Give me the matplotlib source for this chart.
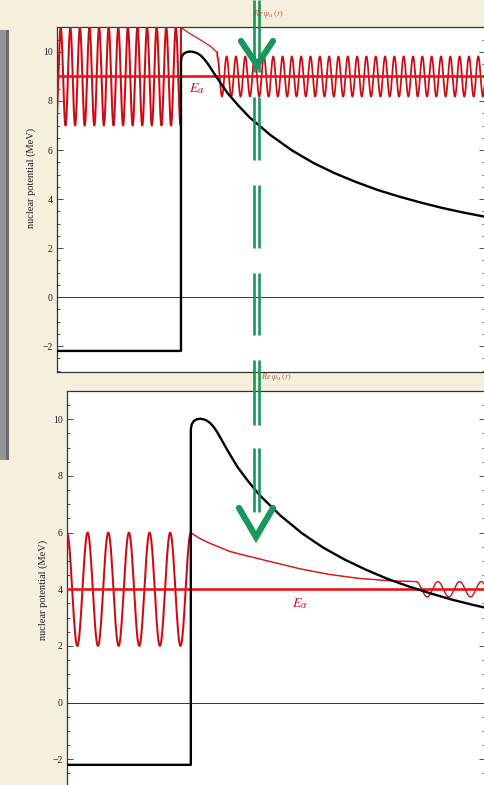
import matplotlib
matplotlib.use("Agg")
import matplotlib.pyplot as plt
import numpy as np
from matplotlib.patches import Rectangle

# ---- data (r in arbitrary length units, V in MeV) ----
barrier_r = [0.0, 2.9, 2.9, 2.92, 2.97, 3.04, 3.12, 3.2, 3.28, 3.36, 3.44, 3.52,
             3.6, 3.7, 3.8, 3.9, 4.0, 4.25, 4.5, 5.0, 5.5, 6.0, 6.5, 7.0, 7.5,
             8.0, 8.5, 9.0, 9.5, 10.0]
barrier_v = [-2.2, -2.2, 9.65, 9.82, 9.94, 10.0, 10.02, 10.0, 9.95, 9.86, 9.72,
             9.54, 9.33, 9.06, 8.8, 8.55, 8.3, 7.8, 7.34, 6.6, 5.98, 5.47, 5.05,
             4.69, 4.37, 4.1, 3.86, 3.64, 3.45, 3.28]
wall_r = 2.9

# upper panel: E_alpha = 9 MeV
E_top = 9.0
top_in_amp, top_in_period, top_in_peak = 2.0, 0.2244, 0.087
top_env_r = [2.9, 3.1, 3.35, 3.6, 3.75]
top_env_v = [11.0, 10.76, 10.5, 10.22, 9.98]
top_out_amp, top_out_period, top_out_start = 0.82, 0.218, 3.75

# lower panel: E_alpha = 4 MeV
E_bot = 4.0
bot_in_amp, bot_in_cycles = 2.0, 6
bot_env_r = [2.9, 3.1, 3.35, 3.82, 4.29, 4.75, 5.46, 6.16, 6.86, 7.56, 8.18]
bot_env_v = [6.0, 5.8, 5.62, 5.33, 5.15, 4.98, 4.72, 4.52, 4.38, 4.3, 4.27]
bot_out_amp, bot_out_period, bot_out_start = 0.27, 0.508, 8.18

yticks = [-2, 0, 2, 4, 6, 8, 10]

RED = "#e8141c"
WAVE = "#e5121b"
PAPER = "#f5efde"
GREEN = "#17975a"
SERIF = "Liberation Serif"

plt.rcParams["mathtext.fontset"] = "stix"

fig = plt.figure(figsize=(4.84, 7.85), dpi=100, facecolor=PAPER)
W, H = 484.0, 785.0


def px_axes(left, top, right, bottom):
    return fig.add_axes([left / W, 1 - bottom / H, (right - left) / W, (bottom - top) / H])


def wave_line(ax, r, v, lw=1.5):
    ax.plot(r, v, color=WAVE, lw=lw, zorder=4)
    ax.plot(r, v, color="black", lw=lw * 0.3, alpha=0.3, zorder=5)


def style(ax, xmax, ylim):
    ax.set_xlim(0, xmax)
    ax.set_ylim(*ylim)
    ax.set_facecolor("white")
    ax.set_xticks([])
    ax.set_yticks(yticks)
    ax.set_yticklabels([str(t).replace("-", "\u2212") for t in yticks],
                       fontfamily=SERIF, fontsize=7, color="#222")
    ax.set_yticks(np.arange(-3, 11.01, 0.5), minor=True)
    ax.tick_params(axis="y", which="both", direction="in", left=True, right=True,
                   width=0.6, color="#333", pad=3)
    ax.tick_params(axis="y", which="major", length=4)
    ax.tick_params(axis="y", which="minor", length=2.2)
    for s in ax.spines.values():
        s.set_color("#333")
        s.set_linewidth(0.9)
    ax.axhline(0, color="#333", lw=0.7, zorder=2)


# ---------------- upper panel ----------------
ax1 = px_axes(57, 27, 484.5, 372)
style(ax1, 10.0, (-3.06, 11.02))
ax1.axhline(E_top, color=RED, lw=1.9, zorder=6)

r_in = np.linspace(0, wall_r, 900)
v_in = E_top + top_in_amp * np.cos(2 * np.pi * (r_in - top_in_peak) / top_in_period)
r_in = np.append(r_in, [wall_r])
v_in = np.append(v_in, [top_env_v[0]])
wave_line(ax1, r_in, v_in)
ax1.plot(top_env_r, top_env_v, color=WAVE, lw=0.9, zorder=4)
r_out = np.linspace(top_out_start, 10.0, 2000)
v_out = E_top + top_out_amp * np.cos(2 * np.pi * (r_out - top_out_start) / top_out_period)
wave_line(ax1, np.r_[top_env_r[-1], r_out], np.r_[top_env_v[-1], v_out], lw=1.3)
ax1.plot(barrier_r, barrier_v, color="black", lw=1.7, zorder=7, solid_joinstyle="round")
ax1.text(3.28, 8.5, r"$\mathbf{\mathit{E}}_{\alpha}$", color="#c8102e", fontsize=10,
         ha="center", va="center", zorder=8)

# ---------------- lower panel ----------------
ax2 = px_axes(67, 391, 484.5, 787.5)
style(ax2, (484.5 - 67) / 42.7, (-3.0, 10.99))
ax2.axhline(E_bot, color=RED, lw=1.9, zorder=6)

r_in = np.linspace(0, wall_r, 600)
v_in = E_bot + bot_in_amp * np.cos(2 * np.pi * bot_in_cycles * r_in / wall_r)
wave_line(ax2, r_in, v_in)
ax2.plot(bot_env_r, bot_env_v, color="#222", lw=0.6, alpha=0.5, zorder=4)
ax2.plot(bot_env_r, bot_env_v, color=WAVE, lw=1.0, zorder=4)
r_out = np.linspace(bot_out_start, 10.0, 600)
v_out = E_bot + bot_out_amp * np.cos(2 * np.pi * (r_out - bot_out_start) / bot_out_period)
wave_line(ax2, r_out, v_out, lw=1.0)
ax2.plot(barrier_r, barrier_v, color="black", lw=1.7, zorder=7, solid_joinstyle="round")
ax2.text(5.46, 3.5, r"$\mathbf{\mathit{E}}_{\alpha}$", color="#c8102e", fontsize=10,
         ha="center", va="center", zorder=8)

# ---------------- overlay in pixel coordinates ----------------
ov = fig.add_axes([0, 0, 1, 1], facecolor="none", zorder=20)
ov.set_xlim(0, W)
ov.set_ylim(H, 0)
ov.axis("off")

ov.add_patch(Rectangle((0, 30), 6, 430, color="#939393", lw=0))
ov.add_patch(Rectangle((6, 30), 3, 430, color="#6a6a6a", lw=0))

ov.text(268, 14, r"$Re\ \psi_\alpha\,(r)$", color="#c0392b", alpha=0.85, fontsize=6,
        ha="center", va="center")
ov.text(276, 377, r"$Re\ \psi_\alpha\,(r)$", color="#c0392b", alpha=0.85, fontsize=6,
        ha="center", va="center")

ov.text(31, 178, "nuclear potential (MeV)", rotation=90, fontfamily=SERIF, fontsize=7.5,
        color="#222", ha="center", va="center")
ov.text(43, 590, "nuclear potential (MeV)", rotation=90, fontfamily=SERIF, fontsize=7.5,
        color="#222", ha="center", va="center")

# green dashed double arrow
dashes = [(0, 72), (97, 160), (185, 248), (273, 335), (360, 425), (448, 512)]
for x in (253.5, 258.5):
    for y0, y1 in dashes:
        ov.plot([x, x], [y0, y1], color=GREEN, lw=1.9, solid_capstyle="butt")
ov.plot([241, 257, 273], [41, 65, 41], color=GREEN, lw=4.5, solid_capstyle="round",
        solid_joinstyle="miter")
ov.plot([239, 256, 273], [508, 537, 508], color=GREEN, lw=4.5, solid_capstyle="round",
        solid_joinstyle="miter")

fig.savefig("out.png", dpi=100, facecolor=PAPER)
